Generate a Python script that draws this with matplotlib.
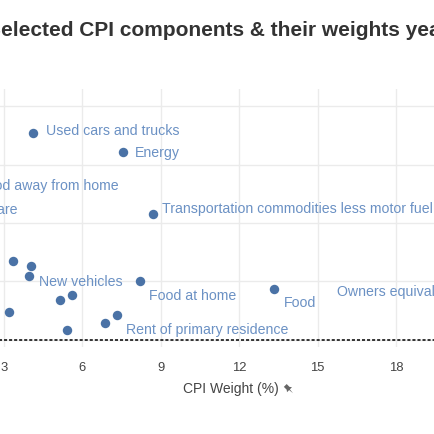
import numpy as np
import matplotlib.pyplot as plt
from matplotlib.patches import Polygon

plt.rcParams['font.family'] = ['Liberation Sans', 'DejaVu Sans']

# CPI components: weight (%) and YoY change (%)
components = [
    'Used cars and trucks', 'Energy', 'Transportation commodities less motor fuel',
    'Household furnishings', 'New vehicles', 'Commodities other', 'Food away from home',
    'Transportation services', 'Recreation', 'Education and communication',
    'Medical care services', 'Rent of primary residence', 'Food at home', 'Food',
]
weights = [4.12, 7.54, 8.71, 3.34, 4.03, 3.97, 5.14, 5.59, 3.19, 5.42, 6.88, 7.32, 8.22, 13.35]
changes = [35.4, 32.1, 21.6, 13.4, 12.6, 10.9, 6.8, 7.7, 4.8, 1.6, 2.8, 4.3, 10.0, 8.7]

# which points carry a text label next to them, with the label offset (points)
labelled = ['Used cars and trucks', 'Energy', 'Transportation commodities less motor fuel',
            'New vehicles', 'Food at home', 'Food', 'Rent of primary residence']
label_offsets = [(9, 2.4), (8.8, 0), (6.5, 3.8), (6, -10.4), (6.3, -10.2), (7, -9.6), (6.5, -10.6)]

# labels whose points lie outside the visible area (data coords, alignment)
extra_labels = ['Food away from home', 'Medical care', 'Owners equivalent rent of residences']
extra_x = [7.37, 3.51, 15.73]
extra_y = [26.5, 22.3, 8.3]
extra_ha = ['right', 'right', 'left']

W = 435.0
x_ticks = np.arange(0, 25, 3)
y_ticks = [0, 10, 20, 30, 40]

marker_color = '#4a72a6'
text_color = '#6b91c4'

fig = plt.figure(figsize=(4.35, 4.35), dpi=100)
fig.patch.set_facecolor('white')

# plot area is wider than the visible canvas (cropped view)
ax = fig.add_axes([-74.4 / W, 1 - 348 / W, 24 * 26.13 / W, 258 / W])
ax.set_xlim(0, 24)
ax.set_ylim(-1.25, 42.93)
for s in ax.spines.values():
    s.set_visible(False)
ax.set_xticks(x_ticks)
ax.set_yticks(y_ticks)
ax.grid(True, color='#ebebeb', linewidth=1)
ax.set_axisbelow(True)
ax.tick_params(length=0, pad=10, labelsize=9.4, labelcolor='#444444')

ax.axhline(0, color='black', linewidth=1.1, dashes=(2, 1.3), zorder=2)

ax.plot(weights, changes, 'o', color=marker_color, markersize=6.8, zorder=3,
        markeredgewidth=0)

for name, off in zip(labelled, label_offsets):
    i = components.index(name)
    ax.annotate(name, (weights[i], changes[i]), xytext=off, textcoords='offset points',
                ha='left', va='center', fontsize=10.2, color=text_color)

for t, x, y, ha in zip(extra_labels, extra_x, extra_y, extra_ha):
    ax.text(x, y, t, ha=ha, va='center', fontsize=10.2, color=text_color)

fig.text(-13 / W, 1 - 36 / W, 'Selected CPI components & their weights year over year',
         fontsize=15, fontweight='bold', color='#333333', ha='left', va='baseline')

fig.text(230.8 / W, 1 - 389 / W, 'CPI Weight (%)', fontsize=10, color='#444444',
         ha='center', va='center')

# small pushpin icon after the axis title
cx, cy = 289.5, 390.7
pin = np.array([[-2, -6], [2, -6], [2, -2], [3.5, 0], [0.5, 0], [0, 5], [-0.5, 0],
                [-3.5, 0], [-2, -2]], dtype=float)
ang = np.radians(-45)
rot = np.array([[np.cos(ang), -np.sin(ang)], [np.sin(ang), np.cos(ang)]])
pin = pin @ rot.T
pts = [((cx + px) / W, 1 - (cy + py) / W) for px, py in pin]
fig.add_artist(Polygon(pts, closed=True, facecolor='#666666', edgecolor='none',
                       transform=fig.transFigure))

fig.savefig('out.png', dpi=100)
